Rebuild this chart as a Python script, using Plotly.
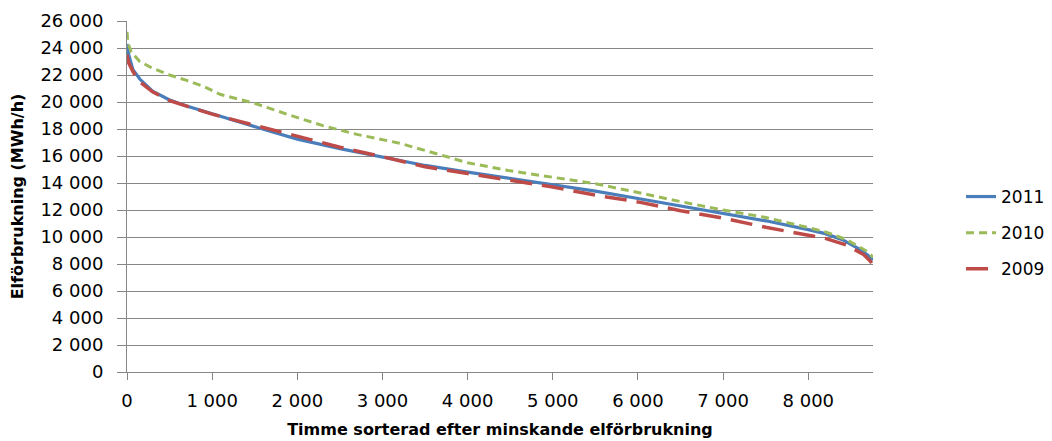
import plotly.graph_objects as go

# Hours (sorted by decreasing consumption) and consumption in MWh/h
hours_2011 = [0, 20, 70, 150, 300, 500, 700, 1000, 1300, 1700, 2000, 2500, 3000, 3500,
              4000, 4500, 5000, 5500, 6000, 6500, 7000, 7500, 8000, 8200, 8400, 8600, 8700, 8760]
load_2011 = [24300, 23500, 22400, 21700, 20800, 20150, 19700, 19100, 18550, 17800, 17250, 16550,
             15950, 15300, 14800, 14350, 13900, 13400, 12850, 12300, 11750, 11200, 10550, 10250,
             9800, 9100, 8650, 8300]

hours_2010 = [0, 10, 50, 150, 300, 500, 700, 900, 1100, 1500, 1900, 2300, 2700, 3200, 3700,
              4000, 4500, 5000, 5500, 6000, 6500, 7000, 7500, 8000, 8200, 8450, 8600, 8700, 8760]
load_2010 = [25200, 24400, 23700, 23000, 22500, 22000, 21600, 21150, 20550, 19900, 19050, 18250,
             17600, 16950, 16050, 15500, 14900, 14450, 13950, 13300, 12620, 12000, 11450, 10700,
             10380, 9800, 9250, 8900, 8500]

hours_2009 = [0, 20, 70, 150, 300, 500, 700, 1000, 1300, 1700, 2000, 2500, 3000, 3500, 4000,
              4500, 5000, 5500, 6000, 6500, 7000, 7500, 8000, 8200, 8450, 8650, 8730, 8760]
load_2009 = [23500, 22900, 22250, 21500, 20750, 20100, 19700, 19100, 18600, 17950, 17400, 16650,
             15950, 15200, 14700, 14200, 13700, 13100, 12600, 11950, 11400, 10720, 10150, 9900,
             9400, 8700, 8200, 7900]

FONT = "DejaVu Sans"
GRID = "#868686"

fig = go.Figure()
fig.add_trace(go.Scatter(x=hours_2011, y=load_2011, mode="lines", name="2011", legendgroup="a",
                         line=dict(color="#4a7ebb", width=3.2)))
fig.add_trace(go.Scatter(x=hours_2010, y=load_2010, mode="lines", name="2010", legendgroup="b",
                         line=dict(color="#9bbb59", width=3, dash="8px,5px")))
fig.add_trace(go.Scatter(x=hours_2009, y=load_2009, mode="lines", name="2009", legendgroup="c",
                         line=dict(color="#be4b48", width=3.5, dash="22px,10px")))

fig.update_layout(
    width=1052, height=441,
    margin=dict(l=127, r=179, t=21, b=69, autoexpand=False),
    paper_bgcolor="white", plot_bgcolor="white",
    separators=", ",
    font=dict(family=FONT, size=18, color="#000000"),
    showlegend=True,
    legend=dict(x=1.118, y=0.396, xanchor="left", yanchor="middle",
                font=dict(family=FONT, size=17), itemwidth=30, tracegroupgap=11,
                borderwidth=0),
)
fig.update_xaxes(
    range=[0, 8760], dtick=1000, tick0=0, tickformat=",d",
    showgrid=False, zeroline=False, automargin=False,
    showline=True, linecolor=GRID, linewidth=1,
    ticks="outside", ticklen=7, tickcolor=GRID, tickwidth=1,
    ticklabelstandoff=5,
    tickfont=dict(family=FONT, size=18),
    title=dict(text="<b>Timme sorterad efter minskande elförbrukning</b>",
               font=dict(family=FONT, size=16), standoff=14),
)
fig.update_yaxes(
    range=[0, 26000], dtick=2000, tick0=0, tickformat=",d",
    showgrid=True, gridcolor=GRID, gridwidth=1, zeroline=False, automargin=False,
    showline=True, linecolor=GRID, linewidth=1,
    ticks="outside", ticklen=9, tickcolor=GRID, tickwidth=1,
    ticklabelstandoff=10,
    tickfont=dict(family=FONT, size=18),
    title=dict(text="<b>Elförbrukning (MWh/h)</b>",
               font=dict(family=FONT, size=16), standoff=12),
)

fig.write_html("out.html")
